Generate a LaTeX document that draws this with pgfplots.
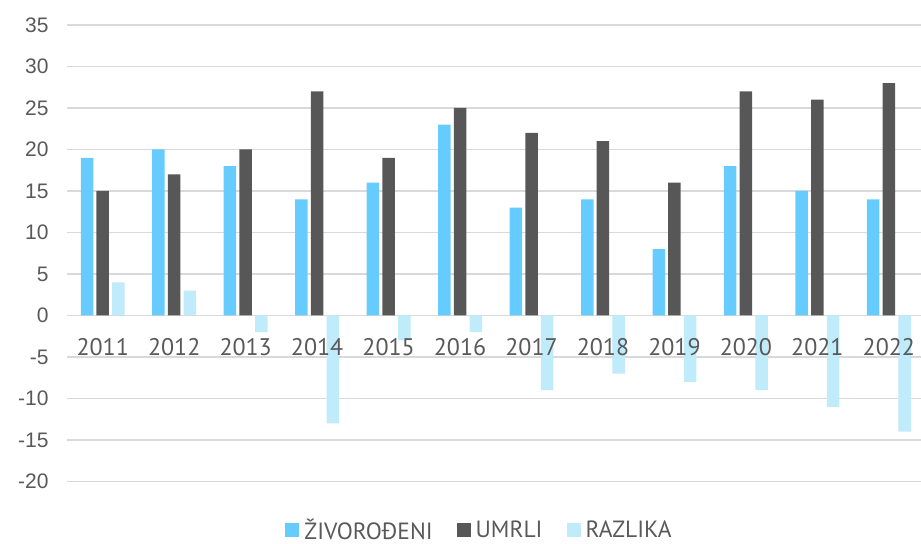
\documentclass[border=0pt]{standalone}
\usepackage{fontspec}
\setmainfont{PT Sans}
\newfontfamily\yfont{Liberation Sans}
\usepackage{pgfplots}
\pgfplotsset{compat=1.18}
\definecolor{cBlue}{HTML}{66CCFF}
\definecolor{cGray}{HTML}{575757}
\definecolor{cLight}{HTML}{BFEBFA}
\definecolor{cText}{HTML}{595959}
\definecolor{cGrid}{HTML}{D9D9D9}
\pgfplotsset{sqleg/.style={legend image code/.code={\fill[##1] (0pt,-7.5pt) rectangle (14pt,6.5pt);}}}
\begin{document}
\begin{tikzpicture}
\begin{axis}[
  scale only axis, width=854pt, height=456.5pt,
  xmin=-0.5, xmax=11.45, ymin=-20, ymax=35,
  ytick={-20,-15,...,35},
  xtick=\empty,
  axis line style={draw=none},
  major tick length=0pt,
  ymajorgrids, grid style={cGrid, line width=1.5pt},
  /pgf/number format/assume math mode=true,
  yticklabel style={font=\yfont\fontsize{21}{25}\selectfont, text=cText, anchor=east, xshift=-15pt},
  ybar, bar width=12.5pt,
  legend style={at={(0.483,-0.106)}, anchor=center, draw=none, fill=none,
    legend columns=-1, font=\fontsize{23.5}{26}\selectfont, text=cText,
    /tikz/every odd column/.append style={column sep=3pt},
    /tikz/every even column/.append style={column sep=22pt},
    legend cell align=left},
]
\addplot[fill=cBlue, draw=none, bar shift=-15.7pt, sqleg] coordinates {
(0,19) (1,20) (2,18) (3,14) (4,16) (5,23) (6,13) (7,14) (8,8) (9,18) (10,15) (11,14)};
\addplot[fill=cGray, draw=none, bar shift=0pt, sqleg] coordinates {
(0,15) (1,17) (2,20) (3,27) (4,19) (5,25) (6,22) (7,21) (8,16) (9,27) (10,26) (11,28)};
\addplot[fill=cLight, draw=none, bar shift=15.7pt, sqleg] coordinates {
(0,4) (1,3) (2,-2) (3,-13) (4,-3) (5,-2) (6,-9) (7,-7) (8,-8) (9,-9) (10,-11) (11,-14)};
\legend{ŽIVOROĐENI, UMRLI, RAZLIKA}
\addplot[draw=none, fill=none, forget plot, bar shift=0pt, bar width=0pt,
  nodes near coords, point meta=explicit symbolic,
  nodes near coords align={center},
  every node near coord/.append style={anchor=north, yshift=-19pt, font=\fontsize{24}{28}\selectfont, text=cText}]
  coordinates {(0,0)[2011] (1,0)[2012] (2,0)[2013] (3,0)[2014] (4,0)[2015] (5,0)[2016]
  (6,0)[2017] (7,0)[2018] (8,0)[2019] (9,0)[2020] (10,0)[2021] (11,0)[2022]};
\end{axis}
\pgfresetboundingbox
\path[use as bounding box] ([xshift=-67pt,yshift=-62.5pt]current axis.south west) rectangle ([yshift=25pt]current axis.north east);
\end{tikzpicture}
\end{document}
